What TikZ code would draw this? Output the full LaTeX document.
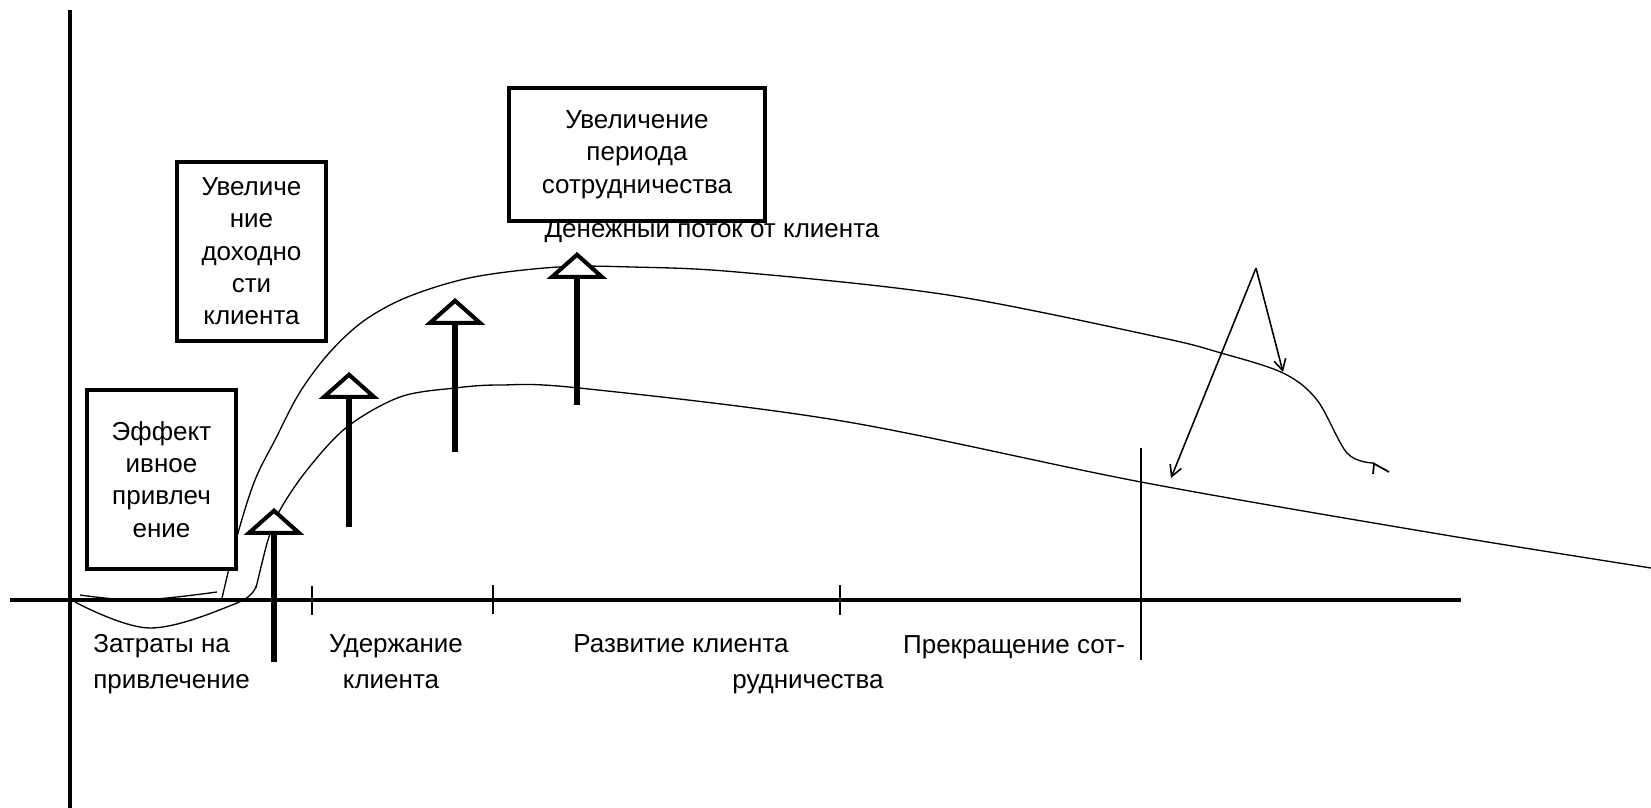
\documentclass[tikz,border=0pt]{standalone}
\usepackage{fontspec}
\setmainfont{Liberation Sans}
\usetikzlibrary{arrows.meta}

\begin{document}
\begin{tikzpicture}[
    x=0.02cm, y=-0.02cm,
    font=\fontsize{14.8}{18.4}\selectfont,
    box/.style={rectangle, draw, line width=2.5pt, fill=white, align=center, inner sep=0pt},
    stage/.style={inner sep=0pt},
    curve/.style={line width=0.75pt},
    lift/.style={-{Triangle[fill=white, length=0.54cm, width=1.2cm, line width=2.3pt]}, line width=3.8pt},
    pointer/.style={-{Straight Barb[length=0.22cm, width=0.24cm]}, line width=0.9pt}
]
    \useasboundingbox (0,0) rectangle (1651,808);

    % axes and stage ticks
    \draw[line width=2.3pt] (70,10) -- (70,808);
    \draw[line width=2.1pt] (10,600) -- (1461,600);
    \foreach \x/\lo/\hi in {312/586/615, 493/585/614, 840/585/615, 1141/448/660}
        \draw[line width=0.85pt] (\x,\lo) -- (\x,\hi);

    % cash flow curves
    \draw[curve] plot[smooth, tension=0.6] coordinates {(80,595) (140,600) (217,592)};
    \draw[curve] plot[smooth, tension=0.6] coordinates {(75,602) (150,628) (237,603) (256,586)};
    \draw[curve] plot[smooth, tension=0.55] coordinates {(222,598) (238,533) (255,480) (275,440)
        (300,392) (330,352) (365,320) (410,296) (474,277) (558,267) (632,267) (737,272)
        (948,295) (1158,337) (1221,353) (1283,373) (1317,400) (1347,453) (1373,463)};
    \draw[curve] plot[smooth, tension=0.55] coordinates {(256,588) (268,540) (280,510) (307,470)
        (347,427) (400,397) (455,388) (500,385) (579,388) (842,421) (1141,482)
        (1433,533) (1651,568)};
    \draw[line width=1pt] (1373,463) -- (1389,472);
    \draw[line width=1pt] (1374,464) -- (1373,474);

    % effects
    \foreach \x/\lo/\hi in {274/662/508, 349/527/372, 455/452/298, 577/405/252}
        \draw[lift] (\x,\lo) -- (\x,\hi);

    \coordinate (fork) at (1256,268);
    \coordinate (upper) at (1283,372);
    \coordinate (lower) at (1171,478);
    \draw[pointer] (fork) -- (upper);
    \draw[pointer] (fork) -- (lower);

    \node[stage, anchor=base] (flow) at (712,237) {Денежный поток от клиента};

    \node[box, minimum width=2.98cm, minimum height=3.58cm] (attract) at (161.5,479.5)
        {Эффект\\ивное\\привлеч\\ение};
    \node[box, minimum width=2.98cm, minimum height=3.58cm] (profit) at (251.5,251.5)
        {Увеличе\\ние\\доходно\\сти\\клиента};
    \node[box, minimum width=5.12cm, minimum height=2.66cm] (period) at (637,154.5)
        {Увеличение\\периода\\сотрудничества};

    % stage labels
    \node[stage, anchor=base west] (cost) at (93,652) {Затраты на};
    \node[stage, anchor=base west] (costb) at (93,688) {привлечение};
    \node[stage, anchor=base] (keep) at (396,652) {Удержание};
    \node[stage, anchor=base] (keepb) at (391,688) {клиента};
    \node[stage, anchor=base] (grow) at (681,652) {Развитие клиента};
    \node[stage, anchor=base] (stop) at (1014,653) {Прекращение сот-};
    \node[stage, anchor=base] (stopb) at (808,688) {рудничества};
\end{tikzpicture}
\end{document}
